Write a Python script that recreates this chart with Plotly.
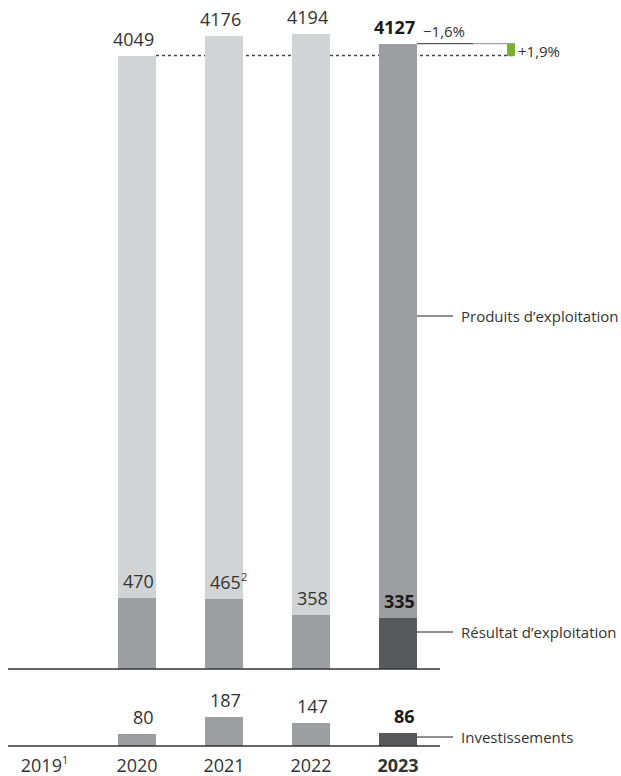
import plotly.graph_objects as go

# ---- data -------------------------------------------------------------
years = [2020, 2021, 2022, 2023]
year_labels = ["2019<sup><span style='font-size:11px'>1</span></sup>",
               "2020", "2021", "2022", "<b>2023</b>"]
produits = [4049, 4176, 4194, 4127]          # Produits d'exploitation
resultat = [470, 465, 358, 335]              # Résultat d'exploitation
investissements = [80, 187, 147, 86]         # Investissements
resultat_notes = ["", "2", "", ""]

# ---- geometry helpers (page is 621 x 776 px) -------------------------
W, H = 621, 776
PX_PER_YEAR = 87.0
X_2020 = 137.0


def px_to_x(p):
    return 2020 + (p - X_2020) / PX_PER_YEAR


def py(p):
    """paper y for a pixel row"""
    return 1 - p / H


BAR_W = 38 / PX_PER_YEAR
X_RANGE = [px_to_x(0), px_to_x(W)]

# top panel: baseline at row 669, 6.6 units per pixel
TOP_SCALE = 6.6
TOP_BASE = 669
top_range = [-(2) * TOP_SCALE, TOP_BASE * TOP_SCALE]
top_domain = [py(TOP_BASE + 2), 1]

# bottom panel: baseline at row 746, 6.5 units per pixel
BOT_SCALE = 6.5
BOT_BASE = 746
BOT_TOP = 680
bot_range = [-(2) * BOT_SCALE, (BOT_BASE - BOT_TOP) * BOT_SCALE]
bot_domain = [py(BOT_BASE + 2), py(BOT_TOP)]

LIGHT = "#d2d3d5"
MID = "#9d9ea2"
DARK = "#58595b"
GREEN = "#7ab030"
TEXT = "#333333"
BOLD = "#1a1a1a"
FONT = "Open Sans"

last = len(years) - 1
prod_colors = [LIGHT] * last + [MID]
res_colors = [MID] * last + [DARK]
inv_colors = [MID] * last + [DARK]

fig = go.Figure()

fig.add_trace(go.Bar(x=years, y=produits, width=BAR_W, marker_color=prod_colors,
                     marker_line_width=0, xaxis="x", yaxis="y", hoverinfo="skip"))
fig.add_trace(go.Bar(x=years, y=resultat, width=BAR_W, marker_color=res_colors,
                     marker_line_width=0, xaxis="x", yaxis="y", hoverinfo="skip"))

# change 2020 -> 2023 shown as a small green step at the right
x_step = px_to_x(511)
step_w = 8 / PX_PER_YEAR
fig.add_trace(go.Bar(x=[x_step], y=[produits[-1] - produits[0]], base=[produits[0]],
                     width=step_w, marker_color=GREEN, marker_line_width=0,
                     xaxis="x", yaxis="y", hoverinfo="skip"))

fig.add_trace(go.Bar(x=years, y=investissements, width=BAR_W, marker_color=inv_colors,
                     marker_line_width=0, xaxis="x2", yaxis="y2", hoverinfo="skip"))

annotations = []
shapes = []


def value_label(x, y, text, bold, xref, yref, xshift=0):
    annotations.append(dict(
        x=x + BAR_W / 2, y=y, xref=xref, yref=yref, xanchor="right", yanchor="bottom",
        text=f"<b>{text}</b>" if bold else text, showarrow=False, yshift=3,
        xshift=xshift,
        font=dict(family=FONT, size=18, color=BOLD if bold else TEXT)))


for i, yr in enumerate(years):
    is_last = i == last
    value_label(yr, produits[i], f"{produits[i]}", is_last, "x", "y")
    note = resultat_notes[i]
    if note:
        txt = f"{resultat[i]}<sup><span style='font-size:11px'>{note}</span></sup>"
    else:
        txt = f"{resultat[i]}"
    value_label(yr, resultat[i], txt, is_last, "x", "y", xshift=6 if note else 0)
    value_label(yr, investissements[i], f"{investissements[i]}", is_last, "x2", "y2")

# reference line at the 2020 level
x_right = x_step + step_w / 2
shapes.append(dict(type="line", xref="x", yref="y", x0=years[0] + BAR_W / 2, x1=x_right,
                   y0=produits[0], y1=produits[0], layer="below",
                   line=dict(color="#444444", width=1.3, dash="dot")))
# level of 2023 carried to the right
x_mid = px_to_x(473)
shapes.append(dict(type="line", xref="x", yref="y", x0=years[-1] + BAR_W / 2, x1=x_mid,
                   y0=produits[-1], y1=produits[-1], line=dict(color="#333333", width=1)))
shapes.append(dict(type="line", xref="x", yref="y", x0=x_mid, x1=x_right,
                   y0=produits[-1], y1=produits[-1], line=dict(color="#8a8a8a", width=1)))


def pct_text(new, old):
    v = (new - old) / old * 100
    sign = "+" if v >= 0 else "\u2212"
    return f"{sign}{abs(v):.1f}%".replace(".", ",")


annotations.append(dict(x=years[-1] + BAR_W / 2, y=produits[-1], xref="x", yref="y",
                        xanchor="left", yanchor="bottom", xshift=4, yshift=1, showarrow=False,
                        text=pct_text(produits[-1], produits[-2]),
                        font=dict(family=FONT, size=15, color=TEXT)))
annotations.append(dict(x=x_right, y=(produits[-1] + produits[0]) / 2, xref="x", yref="y",
                        xanchor="left", yanchor="middle", xshift=1, yshift=-1, showarrow=False,
                        text=pct_text(produits[-1], produits[0]),
                        font=dict(family=FONT, size=15, color=TEXT)))

# series names with leader lines
series_names = [("Produits d\u2019exploitation", 316),
                ("R\u00e9sultat d\u2019exploitation", 632),
                ("Investissements", 737)]
for name, row in series_names:
    shapes.append(dict(type="line", xref="paper", yref="paper",
                       x0=417 / W, x1=453 / W, y0=py(row), y1=py(row),
                       line=dict(color="#222222", width=1)))
    annotations.append(dict(x=459 / W, y=py(row), xref="paper", yref="paper",
                            xanchor="left", yanchor="middle", text=name, showarrow=False,
                            font=dict(family=FONT, size=15, color=TEXT)))

# panel baselines
for yref in ("y", "y2"):
    shapes.append(dict(type="line", xref="x", yref=yref, x0=px_to_x(8), x1=px_to_x(440),
                       y0=0, y1=0, line=dict(color="#333333", width=1.6)))

hidden = dict(visible=False, showgrid=False, zeroline=False, fixedrange=True)

fig.update_layout(
    width=W, height=H, autosize=False,
    margin=dict(l=0, r=0, t=0, b=0),
    paper_bgcolor="white", plot_bgcolor="white",
    barmode="overlay", showlegend=False, bargap=0,
    font=dict(family=FONT, color=TEXT),
    xaxis=dict(domain=[0, 1], range=X_RANGE, anchor="y", **hidden),
    yaxis=dict(domain=top_domain, range=top_range, anchor="x", **hidden),
    xaxis2=dict(domain=[0, 1], range=X_RANGE, anchor="y2", showgrid=False, zeroline=False,
                showline=False, ticks="", fixedrange=True,
                tickmode="array",
                tickvals=[px_to_x(44.5)] + years, ticktext=year_labels,
                tickfont=dict(family=FONT, size=18, color=TEXT),
                ticklabelstandoff=5),
    yaxis2=dict(domain=bot_domain, range=bot_range, anchor="x2", **hidden),
    annotations=annotations,
    shapes=shapes,
)

fig.write_html("out.html")
